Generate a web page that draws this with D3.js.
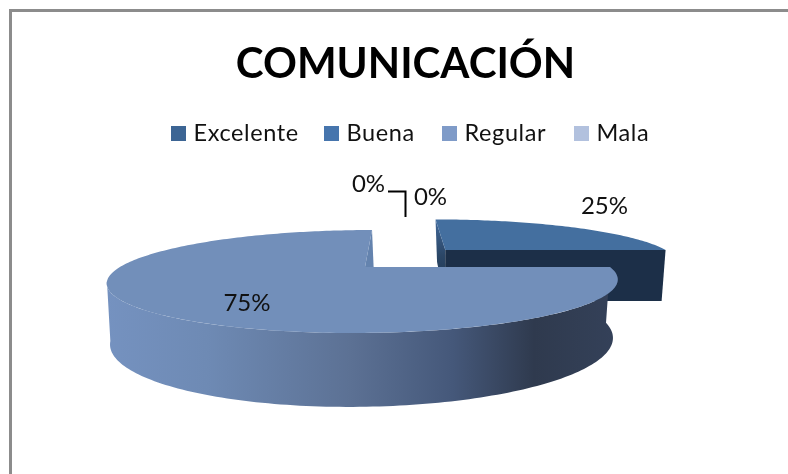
<!DOCTYPE html>
<html>
<head>
<meta charset="utf-8">
<script src="https://cdn.jsdelivr.net/npm/d3@7"></script>
<style>
  html, body { margin: 0; padding: 0; background: #fff; }
  svg { display: block; filter: blur(0.4px); }
  text { font-family: Lato, "Open Sans", sans-serif; }
</style>
</head>
<body>
<svg id="chart" width="788" height="474"></svg>
<script>
const categories = ["Excelente", "Buena", "Regular", "Mala"];
const values = [0, 25, 75, 0];
const percentLabels = ["0%", "25%", "75%", "0%"];

const legendColors = ["#3c6594", "#4675ad", "#7f9bc8", "#b2c1de"];
const topColors = ["#3c6594", "#446f9f", "#728fba", "#b2c1de"];
const explodeU = [0, 0.35, 0, 0], explodeV = [0, 0.399, 0, 0];

const svg = d3.select("#chart");
const defs = svg.append("defs");

// frame, only top and left show in the crop
svg.append("path").attr("d", "M10.5,474V10.5H788")
    .attr("fill", "none").attr("stroke", "#8c8c8c").attr("stroke-width", 3);

svg.append("text").attr("x", 405.5).attr("y", 78).attr("text-anchor", "middle")
    .attr("font-size", 42).attr("font-weight", 700).attr("fill", "#000").text("COMUNICACIÓN");

// legend
const legendX = [171, 324, 442, 574];
const legend = svg.append("g").selectAll("g").data(categories).join("g")
    .attr("transform", (d, i) => `translate(${legendX[i]},126)`);
legend.append("rect").attr("width", 15).attr("height", 15)
    .attr("fill", (d, i) => legendColors[i]);
legend.append("text").attr("x", 22.5).attr("y", 15).attr("font-size", 23.5)
    .attr("letter-spacing", 0.6).attr("fill", "#111").text(d => d);

// pie disc seen in perspective, unit circle -> screen
const k = 0.2816, shear = -0.19;
const topPlane = {x0: 365, y0: 267, a: 245, b: 47.4};
const botPlane = {x0: 365, y0: 322.7, a: 241, b: 60.5};

function project(u, v, plane) {
    const w = 1 - k * v;
    const dy = plane.b * v / w;
    return [plane.x0 + plane.a * u / w + shear * dy, plane.y0 + dy];
}
// angle is clockwise from 12 o'clock, as in d3.pie
function rim(angle, ex, ey, plane) {
    return project(Math.sin(angle) + ex, -Math.cos(angle) - ey, plane);
}
function apex(ex, ey, plane) {
    return project(ex, -ey, plane);
}
function arcPoints(a0, a1, ex, ey, plane) {
    const n = Math.ceil(Math.abs(a1 - a0) / 0.02);
    return d3.range(n + 1).map(i => rim(a0 + (a1 - a0) * i / n, ex, ey, plane));
}

const line = d3.line();
const arcs = d3.pie().sort(null)(values);

const wallGrad = defs.append("linearGradient").attr("id", "wallGrad")
    .attr("gradientUnits", "userSpaceOnUse")
    .attr("x1", 105).attr("x2", 616).attr("y1", 0).attr("y2", 0);
[[0, "#7592c0"], [0.2, "#6e8ab4"], [0.48, "#5c7194"], [0.68, "#45587a"], [0.84, "#2f3a4e"], [1, "#344159"]]
    .forEach(s => wallGrad.append("stop").attr("offset", s[0]).attr("stop-color", s[1]));

const innerGrad = defs.append("linearGradient").attr("id", "innerGrad")
    .attr("x1", 0).attr("x2", 0).attr("y1", 0).attr("y2", 1);
[[0, "#42699a"], [0.45, "#2b4666"], [1, "#1c2f48"]]
    .forEach(s => innerGrad.append("stop").attr("offset", s[0]).attr("stop-color", s[1]));

// the wall has to run out to the left edge of the disc
const wallEnd = Math.PI * 1.41;

// back slice first, big slice sits on top of it
const order = [1, 2];
order.forEach(i => {
    const d = arcs[i], ex = explodeU[i], ey = explodeV[i];
    const g = svg.append("g");
    if (i === 1) {
        // wall facing the notch
        g.append("path").attr("fill", "url(#innerGrad)").attr("d", line([
            rim(d.startAngle, ex, ey, topPlane), apex(ex, ey, topPlane),
            apex(ex, ey, botPlane), rim(d.startAngle, ex, ey, botPlane)]) + "Z");
        // front cut wall
        g.append("path").attr("fill", "#1c2f48").attr("d", line([
            apex(ex, ey, topPlane), rim(d.endAngle, ex, ey, topPlane),
            rim(d.endAngle, ex, ey, botPlane), apex(ex, ey, botPlane)]) + "Z");
    } else {
        const upper = arcPoints(d.startAngle, wallEnd, ex, ey, topPlane);
        const lower = arcPoints(wallEnd, d.startAngle, ex, ey, botPlane);
        g.append("path").attr("fill", "url(#wallGrad)").attr("d", line(upper.concat(lower)) + "Z");
        g.append("path").attr("fill", "#6483ae").attr("d", line([
            rim(d.endAngle, ex, ey, topPlane), apex(ex, ey, topPlane),
            apex(ex, ey, botPlane), rim(d.endAngle, ex, ey, botPlane)]) + "Z");
    }
    const face = [apex(ex, ey, topPlane)].concat(arcPoints(d.startAngle, d.endAngle, ex, ey, topPlane));
    g.append("path").attr("fill", topColors[i]).attr("d", line(face) + "Z");
});

// leader line of the two empty slices
svg.append("path").attr("d", "M388,191.5H405.5V217")
    .attr("fill", "none").attr("stroke", "#000").attr("stroke-width", 2);

const labelX = [368.5, 604.5, 247, 430.5], labelY = [192, 214, 311, 205];
svg.append("g").selectAll("text").data(percentLabels).join("text")
    .attr("x", (d, i) => labelX[i]).attr("y", (d, i) => labelY[i])
    .attr("text-anchor", "middle").attr("font-size", 24).attr("fill", "#111")
    .text(d => d);
</script>
</body>
</html>
